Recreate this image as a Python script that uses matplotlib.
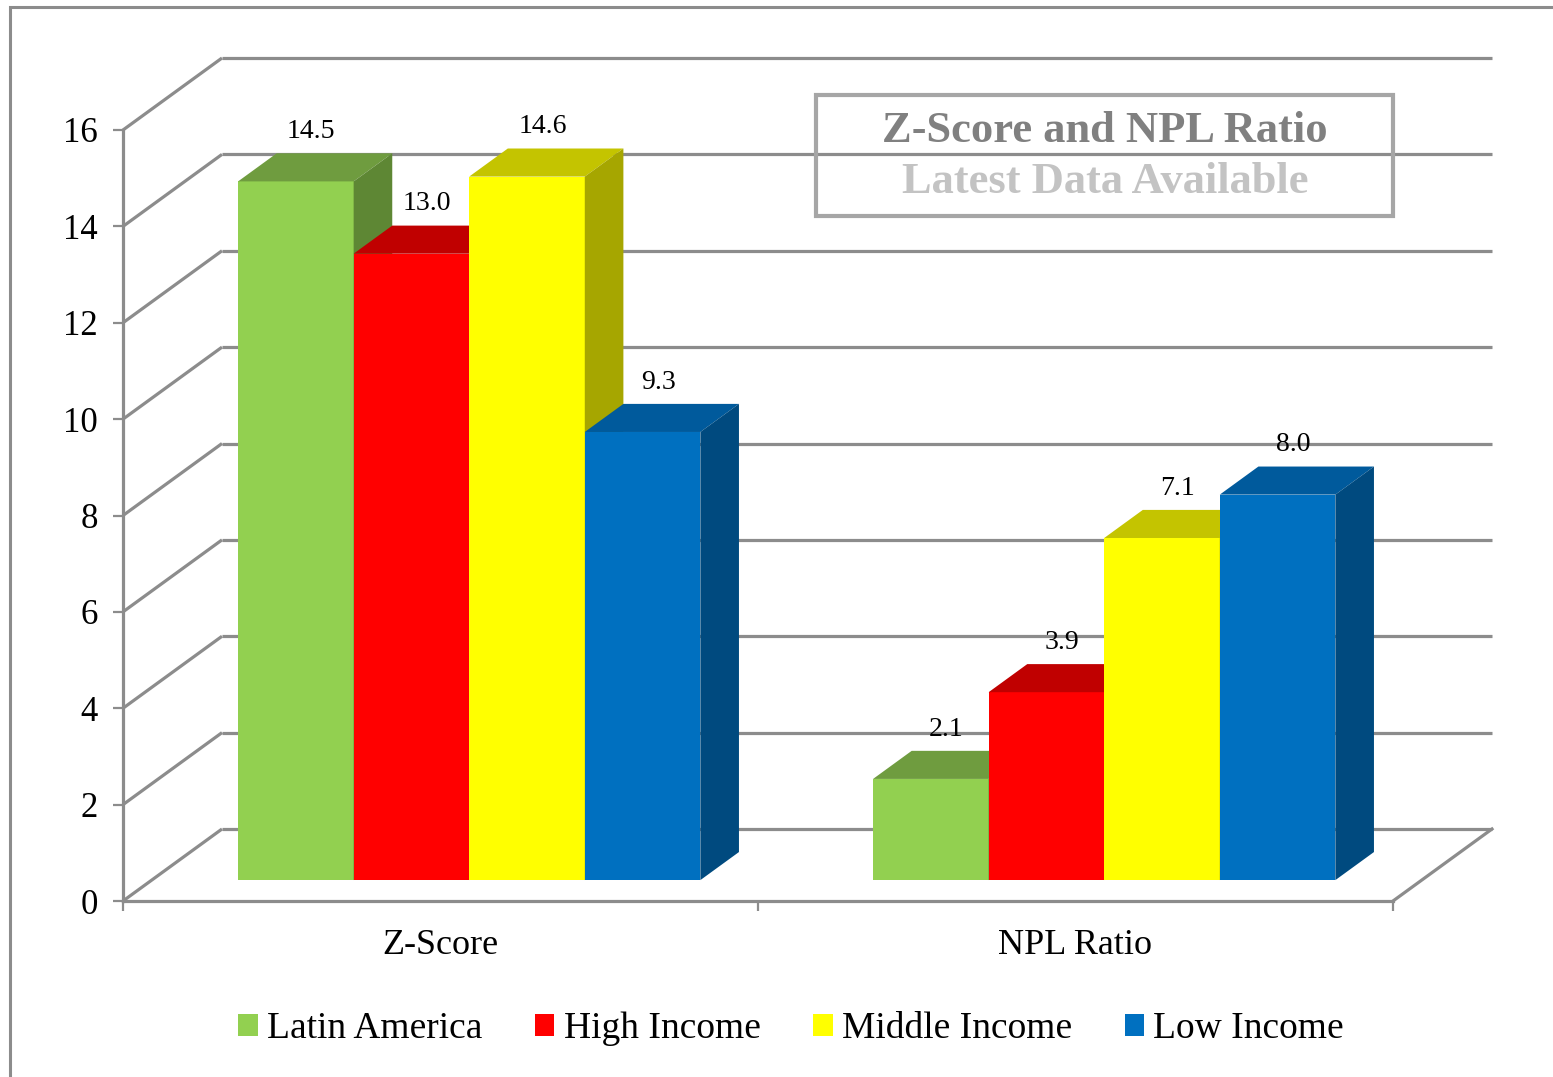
import matplotlib.pyplot as plt
from matplotlib.patches import Polygon, Rectangle
import numpy as np

plt.rcParams['font.family'] = ['Liberation Serif', 'DejaVu Serif']

categories = ["Z-Score", "NPL Ratio"]
series = ["Latin America", "High Income", "Middle Income", "Low Income"]
latin_america = [14.5, 2.1]
high_income = [13.0, 3.9]
middle_income = [14.6, 7.1]
low_income = [9.3, 8.0]
y_ticks = [0, 2, 4, 6, 8, 10, 12, 14, 16]

values = [latin_america, high_income, middle_income, low_income]
front_cols = ["#92D050", "#FF0000", "#FFFF00", "#0070C0"]
top_cols = ["#6F9C3F", "#C00000", "#C4C400", "#005A9C"]
side_cols = ["#5E8734", "#A30000", "#A6A600", "#004A7F"]

# oblique projection: depth z in [0, 1] shifts by (DX, DY) in data units
W, H, DPI = 1553, 1077, 100
PX_X = 635.0          # pixels per category
PX_Y = 771.0 / 16     # pixels per value unit
DX = 99 / PX_X
DY = 72 / PX_Y
Z_FRONT, Z_BACK = 0.29, 0.68
BAR_W = 0.182
GRID = "#8C8C8C"

fig = plt.figure(figsize=(W / DPI, H / DPI), dpi=DPI)
ax = fig.add_axes([0, 0, 1, 1])
ax.set_xlim(-123 / PX_X, (W - 123) / PX_X)
ax.set_ylim((901 - H) / PX_Y, 901 / PX_Y)
ax.patch.set_visible(False)

# walls and floor
lw = 2.3
for v in y_ticks:
    ax.plot([0, DX], [v, v + DY], color=GRID, lw=lw, zorder=1, solid_capstyle='butt')
    ax.plot([DX, 2 + DX], [v + DY, v + DY], color=GRID, lw=lw, zorder=1, solid_capstyle='butt')
ax.plot([2, 2 + DX], [0, DY], color=GRID, lw=lw, zorder=1)

# axes spines as the front edges
for s in ["top", "right"]:
    ax.spines[s].set_visible(False)
ax.spines["left"].set_position(("data", 0))
ax.spines["left"].set_bounds(0, 16)
ax.spines["bottom"].set_position(("data", 0))
ax.spines["bottom"].set_bounds(0, 2)
for s in ["left", "bottom"]:
    ax.spines[s].set_color(GRID)
    ax.spines[s].set_linewidth(lw)
    ax.spines[s].set_zorder(1)

ax.set_yticks(y_ticks)
ax.set_yticklabels([str(t) for t in y_ticks])
ax.tick_params(axis='y', direction='out', length=7, width=1.6, color=GRID,
               labelsize=25, pad=11)
ax.set_xticks([0, 1, 2])
ax.set_xticklabels(["", "", ""])
ax.set_xticks([0.5, 1.5], minor=True)
ax.set_xticklabels(categories, minor=True)
ax.tick_params(axis='x', which='major', direction='out', length=7, width=1.6, color=GRID)
ax.tick_params(axis='x', which='minor', length=0, labelsize=26, pad=20)

# 3D bars
x0 = 0.5 - 2 * BAR_W
fx, fy = Z_FRONT * DX, Z_FRONT * DY
bx, by = (Z_BACK - Z_FRONT) * DX, (Z_BACK - Z_FRONT) * DY
for c in range(len(categories)):
    for i, vals in enumerate(values):
        v = vals[c]
        left = c + x0 + i * BAR_W + fx
        right = left + BAR_W
        base = fy
        top = v + fy
        z = 3 + i
        ax.add_patch(Polygon([(left, base), (right, base), (right, top), (left, top)],
                             closed=True, facecolor=front_cols[i], edgecolor='none', zorder=z))
        ax.add_patch(Polygon([(left, top), (right, top), (right + bx, top + by), (left + bx, top + by)],
                             closed=True, facecolor=top_cols[i], edgecolor='none', zorder=z))
        ax.add_patch(Polygon([(right, base), (right + bx, base + by), (right + bx, top + by), (right, top)],
                             closed=True, facecolor=side_cols[i], edgecolor='none', zorder=z))
        ax.text((left + right) / 2 + bx * 0.4, top + by + 0.45, f"{v:.1f}",
                ha='center', va='center', fontsize=20, zorder=10)

# title box
ax.add_patch(Rectangle((816 / W, 1 - 216 / H), (1393 - 816) / W, (216 - 95) / H,
                       transform=fig.transFigure, fill=False, edgecolor="#A6A6A6",
                       lw=3, zorder=8))
fig.text(1105 / W, 1 - 131 / H, "Z-Score and NPL Ratio", ha='center', va='center',
         fontsize=32, fontweight='bold', color="#808080")
fig.text(1105 / W, 1 - 182 / H, "Latest Data Available", ha='center', va='center',
         fontsize=32, fontweight='bold', color="#C3C3C3")

# legend
handles = [Rectangle((0, 0), 1, 1, facecolor=col, edgecolor='none') for col in front_cols]
fig.legend(handles, series, loc='center', bbox_to_anchor=(791 / W, 1 - 1029 / H), ncol=4,
           frameon=False, fontsize=27, handlelength=0.52, handleheight=0.52,
           handletextpad=0.25, columnspacing=1.4)

# chart area border (left and top edges)
fig.add_artist(Rectangle((10 / W, -0.05), 1.2, 1 - 7 / H + 0.05, transform=fig.transFigure,
                         fill=False, edgecolor="#8C8C8C", lw=2.2))

fig.savefig("out.png", dpi=DPI)
